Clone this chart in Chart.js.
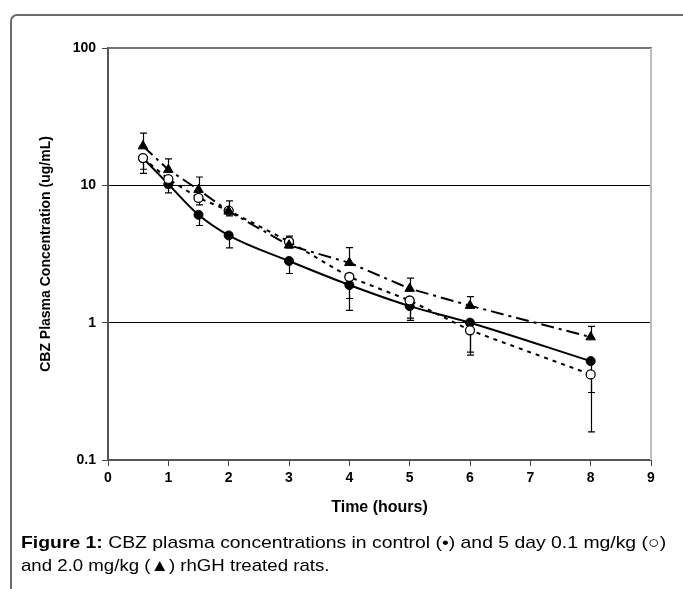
<!DOCTYPE html>
<html><head><meta charset="utf-8">
<script src="https://cdn.jsdelivr.net/npm/chart.js@4.4.1/dist/chart.umd.min.js"></script>
<style>
html,body{margin:0;padding:0;background:#fff;overflow:hidden;}
#wrap{position:relative;width:683px;height:589px;overflow:hidden;}
#frame{position:absolute;left:10px;top:14px;width:680px;height:600px;border-top:2px solid #6a6a6a;border-left:2px solid #6a6a6a;border-top-left-radius:7px;box-sizing:border-box;}
#c{position:absolute;left:0;top:0;}
.cap{position:absolute;left:21px;font-family:"Liberation Sans",Arial,sans-serif;font-size:17px;color:#000;white-space:nowrap;transform-origin:0 50%;display:inline-block;line-height:20px;}
</style></head>
<body>
<div id="wrap">
<div id="frame"></div>
<canvas id="c" width="683" height="589"></canvas>
<span class="cap" id="cap1" style="top:533px"><b>Figure 1:</b> CBZ plasma concentrations in control (•) and 5 day 0.1 mg/kg (○)</span>
<span class="cap" id="cap2" style="top:556px">and 2.0 mg/kg (▲) rhGH treated rats.</span>
</div>
<script>
// ---- data ----
const times = [0.58, 1, 1.5, 2, 3, 4, 5, 6, 8];
const control = [15.8, 10.2, 6.1, 4.32, 2.81, 1.88, 1.32, 1.0, 0.525];
const controlLow = [12.2, 8.8, 5.1, 3.5, 2.28, 1.23, 1.04, 0.61, 0.31];
const dose01 = [15.8, 11.1, 8.1, 6.55, 3.9, 2.15, 1.45, 0.88, 0.42];
const dose01Low = [13.1, 9.6, 7.2, 6.0, 3.5, 1.5, 1.08, 0.58, 0.16];
const dose20 = [19.3, 13.0, 9.3, 6.47, 3.66, 2.73, 1.77, 1.33, 0.785];
const dose20High = [24, 15.6, 11.5, 7.7, 4.27, 3.52, 2.11, 1.55, 0.94];
const xTickValues = [0, 1, 2, 3, 4, 5, 6, 7, 8, 9];
const yTickValues = [0.1, 1, 10, 100];
const yTickLabels = ["0.1", "1", "10", "100"];
const xTitle = "Time (hours)";
const yTitle = "CBZ Plasma Concentration (ug/mL)";

const pts = (arr) => times.map((t, i) => ({x: t, y: arr[i]}));

const errorBars = [
  {mean: control, end: controlLow},
  {mean: dose01, end: dose01Low},
  {mean: dose20, end: dose20High}
];

const FONT = '"Liberation Sans", Arial, sans-serif';

const framePlugin = {
  id: 'frameAndErrors',
  beforeDatasetsDraw(chart) {
    const {ctx, chartArea: a, scales: {x, y}} = chart;
    ctx.save();
    ctx.lineWidth = 2;
    ctx.strokeStyle = '#757575';
    ctx.beginPath(); ctx.moveTo(a.left, a.top); ctx.lineTo(a.right + 1, a.top); ctx.stroke();
    ctx.strokeStyle = '#bdbdbd';
    ctx.beginPath(); ctx.moveTo(a.right, a.top); ctx.lineTo(a.right, a.bottom); ctx.stroke();
    ctx.strokeStyle = '#000';
    ctx.lineWidth = 1.2;
    errorBars.forEach(eb => {
      times.forEach((t, i) => {
        const px = Math.round(x.getPixelForValue(t)) + 0.5;
        const y0 = y.getPixelForValue(eb.mean[i]);
        const y1 = y.getPixelForValue(eb.end[i]);
        ctx.beginPath();
        ctx.moveTo(px, y0); ctx.lineTo(px, y1);
        ctx.moveTo(px - 3.5, y1); ctx.lineTo(px + 3.5, y1);
        ctx.stroke();
      });
    });
    ctx.restore();
  }
};

new Chart(document.getElementById('c'), {
  type: 'line',
  data: {
    datasets: [
      {
        label: 'control', data: pts(control), order: 2,
        borderColor: '#000', borderWidth: 2, cubicInterpolationMode: 'monotone',
        pointStyle: 'circle', pointRadius: 4.5, pointBackgroundColor: '#000', pointBorderColor: '#000', pointBorderWidth: 1
      },
      {
        label: '0.1 mg/kg', data: pts(dose01), order: 1,
        borderColor: '#000', borderWidth: 2, borderDash: [4, 5], tension: 0,
        pointStyle: 'circle', pointRadius: 4.5, pointBackgroundColor: '#fff', pointBorderColor: '#000', pointBorderWidth: 1.3
      },
      {
        label: '2.0 mg/kg', data: pts(dose20), order: 0,
        borderColor: '#000', borderWidth: 2, borderDash: [13, 5, 3, 5], tension: 0,
        pointStyle: 'triangle', pointRadius: 5.5, pointBackgroundColor: '#000', pointBorderColor: '#000', pointBorderWidth: 1
      }
    ]
  },
  options: {
    responsive: false, animation: false,
    layout: {padding: {left: 0, top: 48, right: 32, bottom: 0}},
    plugins: {legend: {display: false}, tooltip: {enabled: false}},
    scales: {
      x: {
        type: 'linear', min: 0, max: 9,
        afterBuildTicks: s => { s.ticks = xTickValues.map(v => ({value: v})); },
        afterFit: s => { s.height = 129; },
        grid: {drawOnChartArea: false, drawTicks: true, tickLength: 6, tickColor: '#444', tickWidth: 1},
        border: {display: true, color: '#555', width: 2},
        ticks: {color: '#000', font: {family: FONT, size: 14, weight: 'bold'}, padding: 4, maxRotation: 0,
                callback: v => String(v)},
        title: {display: true, text: xTitle, color: '#000', font: {family: FONT, size: 16, weight: 'bold'},
                padding: {top: 0, bottom: 72}}
      },
      y: {
        type: 'logarithmic', min: 0.1, max: 100,
        afterBuildTicks: s => { s.ticks = yTickValues.map(v => ({value: v})); },
        afterFit: s => { s.width = 108; },
        grid: {
          drawOnChartArea: true, drawTicks: true, tickLength: 6, tickColor: '#444', tickWidth: 1,
          color: c => (c.tick && (c.tick.value === 1 || c.tick.value === 10)) ? '#000' : 'rgba(0,0,0,0)',
          lineWidth: 1
        },
        border: {display: true, color: '#555', width: 2},
        ticks: {color: '#000', font: {family: FONT, size: 14, weight: 'bold'}, padding: 6,
                callback: (v) => { const i = yTickValues.indexOf(v); return i >= 0 ? yTickLabels[i] : ''; }},
        title: {display: true, text: yTitle, color: '#000', font: {family: FONT, size: 14, weight: 'bold'},
                padding: {top: 38, bottom: 0}}
      }
    }
  },
  plugins: [framePlugin]
});

function fit(id, target) {
  const el = document.getElementById(id);
  const w = el.offsetWidth;
  if (w > 0) el.style.transform = 'scaleX(' + (target / w) + ')';
}
fit('cap1', 645);
fit('cap2', 308);
</script>
</body></html>
